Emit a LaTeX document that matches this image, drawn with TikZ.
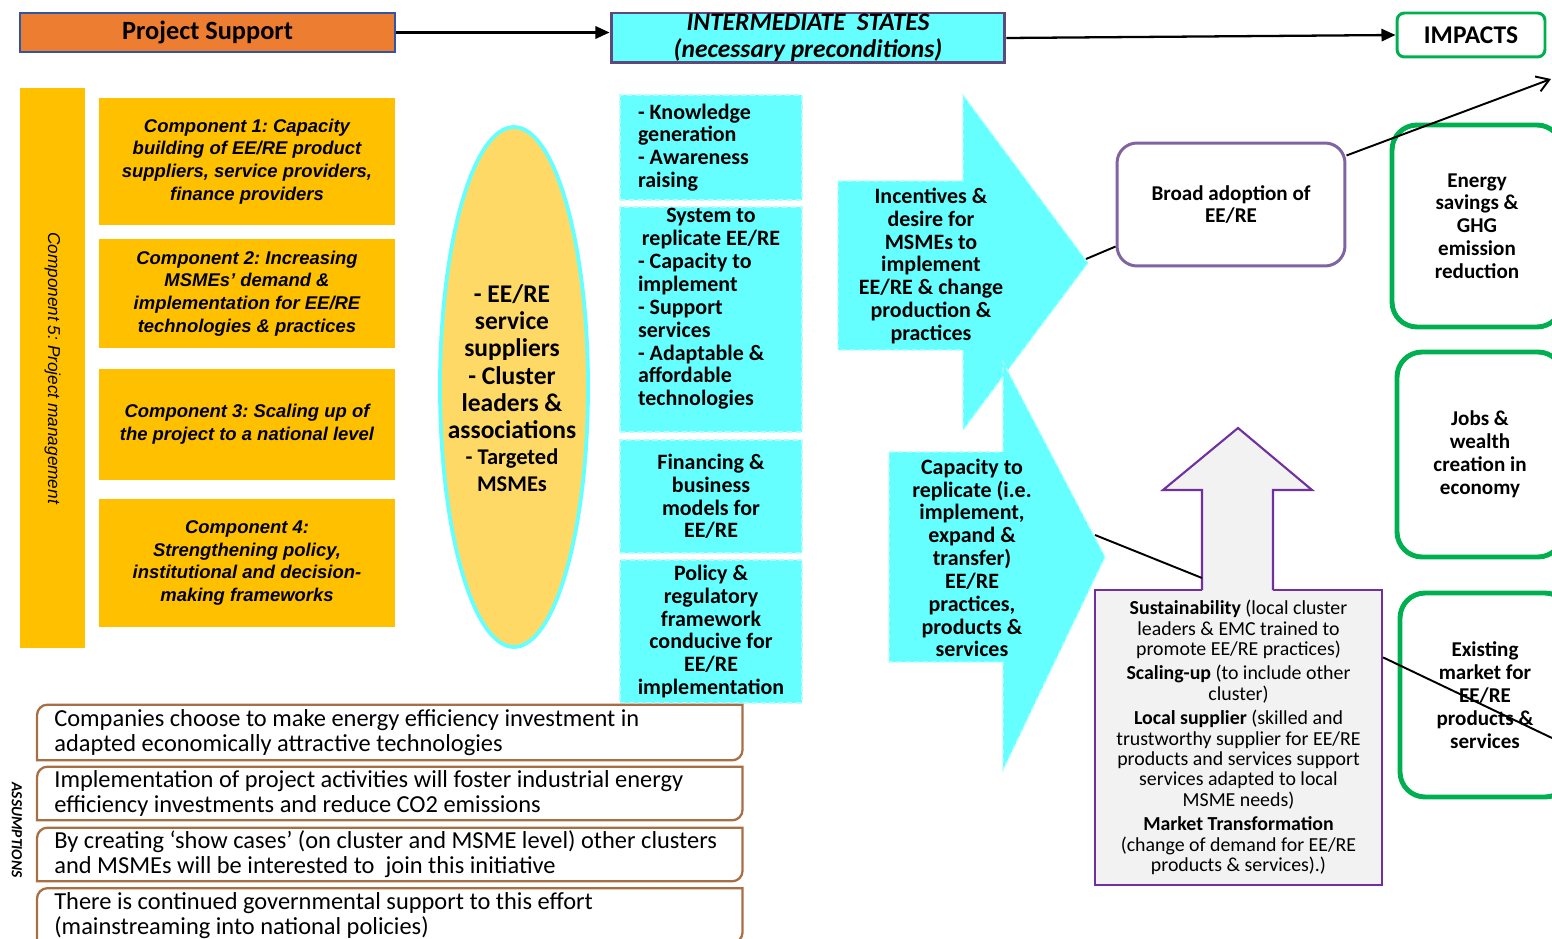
\documentclass[tikz,border=0pt]{standalone}
\usepackage{fontspec}
\setmainfont{Carlito}
\newfontfamily\arialfont{Liberation Sans}
\usetikzlibrary{shapes.geometric,arrows.meta}
\frenchspacing

\definecolor{psorange}{HTML}{ED7D31}
\definecolor{psblue}{HTML}{2F55A4}
\definecolor{statecyan}{HTML}{66FFFF}
\definecolor{edgecyan}{HTML}{B3FFFF}
\definecolor{statepurple}{HTML}{5F497A}
\definecolor{compgold}{HTML}{FFC000}
\definecolor{actorgold}{HTML}{FFD966}
\definecolor{impactgreen}{HTML}{00B050}
\definecolor{adoptpurple}{HTML}{8064A2}
\definecolor{driverpurple}{HTML}{7030A0}
\definecolor{drivergray}{HTML}{F2F2F2}
\definecolor{assumbrown}{HTML}{A86E44}

\begin{document}
\begin{tikzpicture}[x=0.02cm, y=-0.02cm,
  comp/.style={fill=compgold, minimum width=5.92cm, align=center,
    font=\arialfont\bfseries\itshape\fontsize{10.5}{13}\selectfont},
  statebox/.style={fill=statecyan, draw=edgecyan, densely dashed, line width=0.8pt,
    minimum width=3.64cm, inner ysep=1pt, font=\bfseries\fontsize{12.5}{13}\selectfont},
  statetext/.style={text width=2.92cm, align=flush left, inner sep=0pt,
    font=\bfseries\fontsize{12.5}{13}\selectfont},
  bigarrow/.style={fill=statecyan, draw=edgecyan, densely dashed, line width=0.8pt},
  arrowtext/.style={align=center, font=\bfseries\fontsize{12.5}{13}\selectfont},
  impact/.style={draw=impactgreen, line width=2.8pt, rounded corners=0.5cm, align=center,
    font=\bfseries\fontsize{12}{13}\selectfont},
  assum/.style={anchor=west, text width=13.42cm, inner xsep=0.34cm, inner ysep=0pt,
    align=flush left, font=\fontsize{13.9}{14.3}\selectfont},
  assumline/.style={draw=assumbrown, line width=1.3pt},
  conn/.style={draw=black, line width=1.1pt},
  toparrow/.style={draw=black, line width=1.3pt, -{Triangle[length=8pt,width=7pt]}}]
\useasboundingbox (0,0) rectangle (1552,939);

% top row
\node[draw=psblue, line width=1.1pt, fill=psorange, minimum width=7.5cm, minimum height=0.78cm,
  font=\bfseries\fontsize{15}{16}\selectfont] (ps) at (207.5,32.5) {Project Support};
\node[draw=statepurple, line width=1.7pt, fill=statecyan, minimum width=7.88cm, minimum height=1cm,
  inner sep=0pt, align=center, font=\bfseries\itshape\fontsize{14.5}{15.5}\selectfont] (states) at (808,38)
  {INTERMEDIATE\ \ STATES\\(necessary preconditions)};
\node[draw=impactgreen, line width=1.7pt, rounded corners=0.15cm, minimum width=2.96cm, minimum height=0.88cm,
  font=\bfseries\fontsize{14.5}{15}\selectfont] (impacts) at (1471,35) {IMPACTS};

% components
\node[fill=compgold, rotate=-90, minimum width=11.2cm, minimum height=1.3cm,
  font=\arialfont\itshape\fontsize{9.8}{11}\selectfont] (c5) at (52.5,368) {Component 5: Project management};
\node[comp, minimum height=2.54cm] (c1) at (247,161.5) {Component 1: Capacity\\building of EE/RE product\\suppliers, service providers,\\finance providers};
\node[comp, minimum height=2.18cm] (c2) at (247,293.5) {Component 2: Increasing\\MSMEs’ demand \&\\implementation for EE/RE\\technologies \& practices};
\node[comp, minimum height=2.22cm] (c3) at (247,424.5) {Component 3: Scaling up of\\the project to a national level};
\node[comp, minimum height=2.56cm] (c4) at (247,563) {Component 4:\\Strengthening policy,\\institutional and decision-\\making frameworks};

% actors
\node[ellipse, draw=statecyan, line width=2.2pt, fill=actorgold, minimum width=2.96cm, minimum height=10.4cm,
  inner sep=0pt] (actors) at (514,387) {};
\node[text width=2.9cm, align=flush center, inner sep=0pt, font=\bfseries\fontsize{14.5}{15.5}\selectfont] (actortxt) at (512,388)
  {- EE/RE\\service\\suppliers\\- Cluster\\leaders \&\\associations\par\vspace{1pt}\fontsize{12.8}{13.6}\selectfont - Targeted\\MSMEs};

% intermediate states
\node[statebox, minimum height=2.1cm, text width=2.92cm, align=flush left] (knowledge) at (711,147.5)
  {- Knowledge\\generation\\- Awareness\\raising};
\node[statebox, minimum height=4.5cm] (system) at (711,319.5) {};
\node[statetext] (systemtxt) at (711,309)
  {{\centering System to\\replicate EE/RE\par}- Capacity to\\implement\\- Support\\services\\- Adaptable \&\\affordable\\technologies};
\node[statebox, minimum height=2.26cm, align=center] (finance) at (711,496.5) {Financing \&\\business\\models for\\EE/RE};
\node[statebox, minimum height=2.86cm, align=center] (policy) at (711,631.5)
  {Policy \&\\regulatory\\framework\\conducive for\\EE/RE\\implementation};

% big arrows
\filldraw[bigarrow] (838,181) -- (963,181) -- (963,95) -- (1088,263) -- (963,430) -- (963,350) -- (838,350) -- cycle;
\filldraw[bigarrow] (889,452) -- (1003,452) -- (1003,362) -- (1105,557) -- (1003,770) -- (1003,662) -- (889,662) -- cycle;
\coordinate (incentivetip) at (1086,259);
\coordinate (capacitytip) at (1095,535);
\node[arrowtext] (incentives) at (931,266) {Incentives \&\\desire for\\MSMEs to\\implement\\EE/RE \& change\\production \&\\practices};
\node[arrowtext] (capacity) at (972,558) {Capacity to\\replicate (i.e.\\implement,\\expand \&\\transfer)\\EE/RE\\practices,\\products \&\\services};

% outcomes and impacts
\node[draw=adoptpurple, line width=1.7pt, rounded corners=0.4cm, minimum width=4.56cm, minimum height=2.46cm,
  align=center, font=\bfseries\fontsize{12}{13}\selectfont] (adoption) at (1231,204.5) {Broad adoption of\\EE/RE};
\node[impact, minimum width=3.4cm, minimum height=4.04cm] (energy) at (1477,226) {Energy\\savings \&\\GHG\\emission\\reduction};
\node[impact, minimum width=3.32cm, minimum height=4.1cm] (jobs) at (1480,454.5) {Jobs \&\\wealth\\creation in\\economy};
\node[impact, minimum width=3.4cm, minimum height=4.08cm] (market) at (1485,695) {Existing\\market for\\EE/RE\\products \&\\services};

% drivers
\node[fill=drivergray, draw=driverpurple, line width=1.2pt, minimum width=5.74cm, minimum height=5.9cm,
  text width=5.3cm, align=flush center, font=\fontsize{11.3}{11.6}\selectfont] (drivers) at (1238.5,737.5)
  {\textbf{Sustainability} (local cluster\\leaders \& EMC trained to\\promote EE/RE practices)\par\vspace{2.3pt}
   \textbf{Scaling-up} (to include other\\cluster)\par\vspace{2.3pt}
   \textbf{Local supplier} (skilled and\\trustworthy supplier for EE/RE\\products and services support\\services adapted to local\\MSME needs)\par\vspace{2.3pt}
   \textbf{Market Transformation}\\(change of demand for EE/RE\\products \& services).)};
\fill[drivergray] (1202,592) -- (1202,490) -- (1163,490) -- (1238,428) -- (1312,490) -- (1273,490) -- (1273,592) -- cycle;
\draw[driverpurple, line width=1.2pt] (1202,590) -- (1202,490) -- (1163,490) -- (1238,428) -- (1312,490) -- (1273,490) -- (1273,590);
\coordinate (shaftleft) at (1202,578);

% assumptions
\node[rotate=-90, font=\bfseries\itshape\fontsize{8.8}{10}\selectfont] (asslabel) at (17,830) {ASSUMPTIONS};
\node[assum, minimum height=1.1cm] (as1) at (37,732.5) {Companies choose to make energy efficiency investment in\\adapted economically attractive technologies};
\node[assum, minimum height=1.06cm] (as2) at (37,793.5) {Implementation of project activities will foster industrial energy\\efficiency investments and reduce CO2 emissions};
\node[assum, minimum height=1.06cm] (as3) at (37,854.5) {By creating ‘show cases’ (on cluster and MSME level) other clusters\\and MSMEs will be interested to\ \ join this initiative};
\node[assum, minimum height=1.08cm] (as4) at (37,915.5) {There is continued governmental support to this effort\\(mainstreaming into national policies)};
\foreach \asm in {as1,as2,as3,as4}
  \draw[assumline] (\asm.south west) -- ([yshift=-6pt]\asm.north west) arc[start angle=180, end angle=90, radius=6pt]
    -- (\asm.north east) -- ([yshift=6pt]\asm.south east) arc[start angle=0, end angle=-90, radius=6pt] -- cycle;

% connectors
\coordinate (impactedge) at (1551,79);
\coordinate (marketedge) at (1552,738);
\draw[toparrow] (ps.east) -- (ps.east -| states.west);
\draw[toparrow] (states.east) -- (impacts.west);
\draw[conn] (incentivetip) -- (adoption.200);
\draw[conn, -{Straight Barb[length=7pt,width=9pt]}] (adoption.23) -- (impactedge);
\draw[conn] (capacitytip) -- (shaftleft);
\draw[conn] (drivers.29) -- (marketedge);
\end{tikzpicture}
\end{document}
